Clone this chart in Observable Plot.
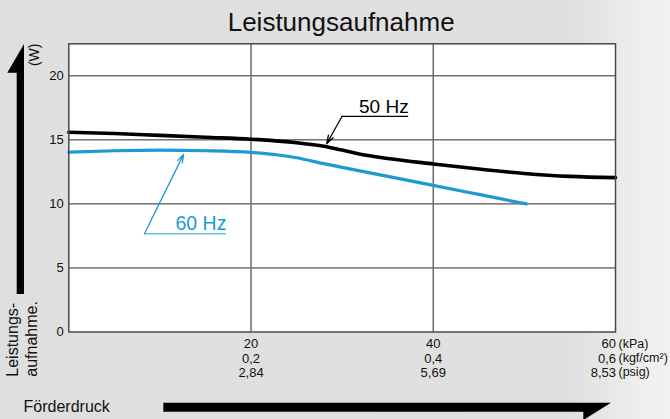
<!DOCTYPE html>
<html>
<head>
<meta charset="utf-8">
<script src="https://cdn.jsdelivr.net/npm/d3@7"></script>
<script src="https://cdn.jsdelivr.net/npm/@observablehq/plot@0.6"></script>
<style>
  html, body { margin: 0; padding: 0; }
  body {
    width: 670px; height: 419px; overflow: hidden;
    background: linear-gradient(to right, #dfdfdf 0%, #e0e0e0 86%, #efefef 96%, #f1f1f1 100%);
    font-family: "Liberation Sans", Arial, Helvetica, sans-serif;
  }
</style>
</head>
<body>
<div id="chart"></div>
<script>
// ---- data ----
const pressure50 = [0, 5, 10, 15, 20, 25, 28, 30, 32, 35, 40, 45, 50, 55, 60];
const power50    = [15.6, 15.5, 15.35, 15.2, 15.05, 14.78, 14.5, 14.2, 13.88, 13.55, 13.12, 12.72, 12.38, 12.15, 12.05];
const pressure60 = [0, 5, 10, 15, 20, 23, 25, 28, 30, 35, 40, 45, 50.2];
const power60    = [14.05, 14.15, 14.2, 14.15, 14.02, 13.82, 13.6, 13.14, 12.85, 12.15, 11.45, 10.74, 10.0];

const yTicks = [0, 5, 10, 15, 20];
const yGrid = [5, 10, 15, 20];
const xGrid = [20, 40];
const xTicks = [20, 40, 60];
const kpaLabels = ["20", "40", "60"];
const kgfLabels = ["0,2", "0,4", "0,6"];
const psigLabels = ["2,84", "5,69", "8,53"];
const unitLabels = ["(kPa)", "(kgf/cm²)", "(psig)"];

const seriesNames = ["50 Hz", "60 Hz"];
const seriesColors = ["#000000", "#1b9ad6"];

// annotation anchors (data space)
const label50 = {x1: 30.0, x2: 37.3, y: 16.84, tipX: 28.3, tipY: 14.7};
const label60 = {x1: 8.3, x2: 17.3, y: 7.67, tipX: 12.6, tipY: 13.87};

const font = "'Liberation Sans', Arial, Helvetica, sans-serif";

const d50 = pressure50.map((x, i) => ({x, y: power50[i]}));
const d60 = pressure60.map((x, i) => ({x, y: power60[i]}));

const xi = xTicks.map((d, i) => i);

const plot = Plot.plot({
  width: 670,
  height: 419,
  marginLeft: 68.3,
  marginRight: 55,
  marginTop: 43.3,
  marginBottom: 87.5,
  style: {background: "transparent", fontFamily: font, fontSize: "13px", color: "#111"},
  x: {domain: [0, 60], axis: null},
  y: {domain: [0, 22.5], ticks: yTicks, tickSize: 0, tickPadding: 5, label: null, tickFormat: d => String(d)},
  marks: [
    Plot.frame({fill: "white", stroke: "none"}),
    Plot.ruleY(yGrid, {stroke: "#2a2a2a", strokeWidth: 1}),
    Plot.ruleX(xGrid, {stroke: "#6a6a6a", strokeWidth: 1.5}),
    Plot.line(d50, {x: "x", y: "y", stroke: seriesColors[0], strokeWidth: 3.6, curve: "monotone-x"}),
    Plot.line(d60, {x: "x", y: "y", stroke: seriesColors[1], strokeWidth: 3.2, curve: "monotone-x"}),
    // 50 Hz annotation
    Plot.ruleY([label50.y], {x1: label50.x1, x2: label50.x2, stroke: seriesColors[0], strokeWidth: 1.2}),
    Plot.arrow([label50], {x1: "x1", y1: "y", x2: "tipX", y2: "tipY", stroke: seriesColors[0], strokeWidth: 1.3, headLength: 10, headAngle: 35}),
    Plot.text([seriesNames[0]], {x: label50.x2, y: label50.y, textAnchor: "end", lineAnchor: "bottom", dy: -3.5, fontSize: 19, fill: seriesColors[0]}),
    // 60 Hz annotation
    Plot.ruleY([label60.y], {x1: label60.x1, x2: label60.x2, stroke: seriesColors[1], strokeWidth: 1.2}),
    Plot.arrow([label60], {x1: "x1", y1: "y", x2: "tipX", y2: "tipY", stroke: seriesColors[1], strokeWidth: 1.3, headLength: 10, headAngle: 35}),
    Plot.text([seriesNames[1]], {x: label60.x2, y: label60.y, textAnchor: "end", lineAnchor: "bottom", dy: -3.5, fontSize: 19.5, fill: seriesColors[1]}),
    // frame
    Plot.frame({stroke: "#4a4a4a", strokeWidth: 1.5}),
    // x tick labels (3 unit rows)
    Plot.text(xi.slice(0, 2), {x: i => xTicks[i], y: 0, text: i => `${kpaLabels[i]}\n${kgfLabels[i]}\n${psigLabels[i]}`, lineAnchor: "top", dy: 6, lineHeight: 1.12, fontSize: 13, fill: "#111"}),
    Plot.text(xi.slice(2), {x: i => xTicks[i], y: 0, text: i => `${kpaLabels[i]}\n${kgfLabels[i]}\n${psigLabels[i]}`, textAnchor: "end", dx: 0.5, lineAnchor: "top", dy: 6, lineHeight: 1.12, fontSize: 13, fill: "#111"}),
    Plot.text([unitLabels.join("\n")], {x: 60, y: 0, textAnchor: "start", dx: 3, lineAnchor: "top", dy: 6, lineHeight: 1.12, fontSize: 12.5, fill: "#111"}),
    // title
    Plot.text(["Leistungsaufnahme"], {frameAnchor: "top", dx: -1, dy: -12.6, fontSize: 26, lineAnchor: "bottom", fill: "#111"})
  ]
});

document.getElementById("chart").appendChild(plot);

// decorative axis arrows & axis titles
const svg = d3.select(plot);
const g = svg.append("g");
// vertical arrow (half head pointing up, extending left)
g.append("path")
  .attr("d", "M16.7,294 L16.7,72.7 L7.3,72.7 L24,44 L24,294 Z")
  .attr("fill", "#000");
// horizontal arrow (half head pointing right, extending down)
g.append("path")
  .attr("d", "M163.3,402.7 L611,402.7 L583.3,420 L583.3,411.7 L163.3,411.7 Z")
  .attr("fill", "#000");

g.append("text")
  .attr("transform", "translate(39,43.5) rotate(-90)")
  .attr("text-anchor", "end")
  .attr("font-size", 14)
  .attr("fill", "#111")
  .text("(W)");

g.append("text")
  .attr("transform", "translate(18,376.7) rotate(-90)")
  .attr("text-anchor", "start")
  .attr("font-size", 16)
  .attr("fill", "#111")
  .text("Leistungs-");
g.append("text")
  .attr("transform", "translate(37,376.7) rotate(-90)")
  .attr("text-anchor", "start")
  .attr("font-size", 16)
  .attr("fill", "#111")
  .text("aufnahme.");

g.append("text")
  .attr("x", 66.7)
  .attr("y", 411.5)
  .attr("font-size", 16)
  .attr("fill", "#111")
  .text("Förderdruck");
</script>
</body>
</html>
